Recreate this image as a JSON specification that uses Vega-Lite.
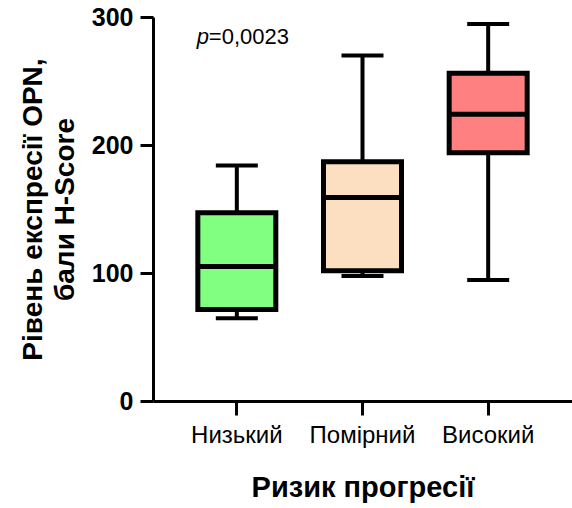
{
  "$schema": "https://vega.github.io/schema/vega-lite/v6.json",
  "autosize": "none",
  "width": 419,
  "height": 384,
  "padding": {"left": 153, "top": 17, "right": 0, "bottom": 107},
  "background": "white",
  "config": {
    "view": {"stroke": null},
    "font": "Liberation Sans"
  },
  "data": {
    "values": [
      {"risk": "Низький", "min": 64.6, "q1": 71.5, "median": 105, "q3": 147, "max": 184},
      {"risk": "Помірний", "min": 97.6, "q1": 101.7, "median": 159, "q3": 187, "max": 270},
      {"risk": "Високий", "min": 94.5, "q1": 194, "median": 224, "q3": 256, "max": 294.5}
    ]
  },
  "encoding": {
    "x": {
      "field": "risk",
      "type": "nominal",
      "sort": ["Низький", "Помірний", "Високий"],
      "scale": {"paddingInner": 0, "paddingOuter": 0.167},
      "axis": {
        "title": "Ризик прогресії",
        "titleFontSize": 29,
        "titleFontWeight": "bold",
        "titleColor": "black",
        "titlePadding": 26,
        "labelAngle": 0,
        "labelFontSize": 24,
        "labelColor": "black",
        "labelPadding": 8,
        "domainColor": "black",
        "domainWidth": 3,
        "tickColor": "black",
        "tickWidth": 3,
        "tickSize": 14
      }
    }
  },
  "layer": [
    {
      "mark": {"type": "rule", "color": "black", "strokeWidth": 4},
      "encoding": {
        "y": {
          "field": "min",
          "type": "quantitative",
          "scale": {"domain": [0, 300], "nice": false},
          "axis": {
            "title": ["Рівень експресії OPN,", "бали H-Score"],
            "titleFontSize": 28,
            "titleFontWeight": "bold",
            "titleColor": "black",
            "titleLineHeight": 32,
            "titlePadding": 12,
            "values": [0, 100, 200, 300],
            "labelFontSize": 25,
            "labelFontWeight": "bold",
            "labelColor": "black",
            "labelPadding": 7,
            "domainColor": "black",
            "domainWidth": 3,
            "tickColor": "black",
            "tickWidth": 3,
            "tickSize": 13,
            "grid": false
          }
        },
        "y2": {"field": "max"}
      }
    },
    {
      "mark": {"type": "tick", "color": "black", "thickness": 4, "size": 42, "opacity": 1},
      "encoding": {"y": {"field": "min", "type": "quantitative"}}
    },
    {
      "mark": {"type": "tick", "color": "black", "thickness": 4, "size": 42, "opacity": 1},
      "encoding": {"y": {"field": "max", "type": "quantitative"}}
    },
    {
      "mark": {"type": "bar", "width": 78, "stroke": "black", "strokeWidth": 5},
      "encoding": {
        "y": {"field": "q1", "type": "quantitative"},
        "y2": {"field": "q3"},
        "color": {
          "field": "risk",
          "type": "nominal",
          "scale": {"domain": ["Низький", "Помірний", "Високий"], "range": ["#80FF80", "#FCDEC0", "#FF8080"]},
          "legend": null
        }
      }
    },
    {
      "mark": {"type": "tick", "color": "black", "thickness": 5, "size": 80, "opacity": 1},
      "encoding": {"y": {"field": "median", "type": "quantitative"}}
    },
    {
      "data": {"values": [{"risk": "Низький", "y": 279, "label": "p"}]},
      "mark": {"type": "text", "align": "left", "baseline": "alphabetic", "dx": -40, "fontSize": 22, "fontStyle": "italic", "color": "black"},
      "encoding": {
        "y": {"field": "y", "type": "quantitative"},
        "text": {"field": "label"}
      }
    },
    {
      "data": {"values": [{"risk": "Низький", "y": 279, "label": "=0,0023"}]},
      "mark": {"type": "text", "align": "left", "baseline": "alphabetic", "dx": -28, "fontSize": 22, "color": "black"},
      "encoding": {
        "y": {"field": "y", "type": "quantitative"},
        "text": {"field": "label"}
      }
    }
  ]
}
